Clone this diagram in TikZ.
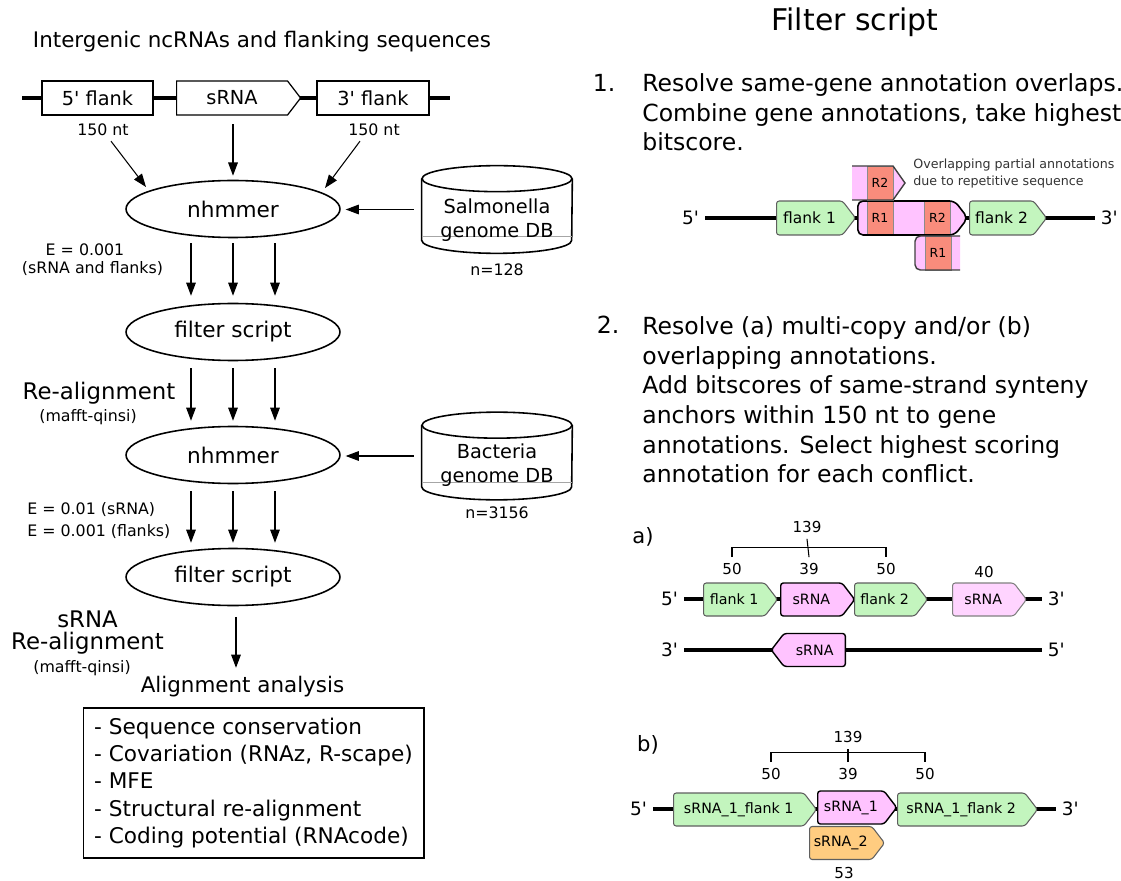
\documentclass[tikz,border=0pt]{standalone}
\usepackage{fontspec}
\setmainfont{DejaVu Sans}
\usetikzlibrary{positioning,calc,arrows.meta,shapes.geometric,shapes.symbols}
\definecolor{flankgreen}{RGB}{195,245,190}
\definecolor{srnapink}{RGB}{255,195,255}
\definecolor{srnalight}{RGB}{255,212,255}
\definecolor{repred}{RGB}{249,140,124}
\definecolor{srnaorange}{RGB}{255,204,128}
\definecolor{geneedge}{RGB}{95,95,95}
\newcommand\pr{\textquotesingle}
\tikzset{>={Triangle[length=7.5pt,width=5.5pt]}}
\tikzset{stage/.style={ellipse,draw,line width=0.9pt,minimum width=4.28cm,minimum height=1.14cm,font=\fontsize{12.3}{14}\selectfont}}
\tikzset{dbbody/.style={rectangle,inner sep=0pt,minimum width=3cm,minimum height=1.74cm}}
\tikzset{dbline/.style={line width=0.9pt}}
\tikzset{dbtext/.style={align=center,font=\fontsize{11}{13.7}\selectfont}}
\tikzset{seqbox/.style={draw,line width=0.7pt,fill=white,minimum height=0.68cm,inner sep=1pt,font=\fontsize{11}{13}\selectfont}}
\tikzset{small/.style={font=\fontsize{9}{10.8}\selectfont}}
\tikzset{big/.style={font=\fontsize{13}{12.5}\selectfont,align=center}}
\tikzset{flow/.style={->,line width=0.6pt}}
\tikzset{gene/.style={signal,signal to=east,signal pointer angle=105,anchor=west,draw=geneedge,line width=0.6pt,rounded corners=1.5pt,minimum height=0.66cm,inner sep=1pt,font=\fontsize{8.1}{9}\selectfont}}
\tikzset{band/.style={rectangle,fill=repred,draw=black!45,line width=0.4pt,minimum width=0.52cm,minimum height=0.68cm,inner sep=0pt,font=\fontsize{7.1}{8}\selectfont}}
\tikzset{strand/.style={line width=2.3pt}}
\tikzset{endlbl/.style={inner sep=3.2pt,font=\fontsize{10.5}{12}\selectfont}}
\tikzset{num/.style={font=\fontsize{8.6}{10}\selectfont}}
\tikzset{bracket/.style={line width=0.6pt}}
\tikzset{steplabel/.style={font=\fontsize{12}{14}\selectfont}}
\tikzset{stepbody/.style={align=left,inner sep=0pt,font=\fontsize{13.4}{16.8}\selectfont}}
\begin{document}
\begin{tikzpicture}[x=0.02cm,y=-0.02cm]
\useasboundingbox (0,0) rectangle (1121,881);

% pipeline
\node[font=\fontsize{12.2}{14}\selectfont] (intro) at (262,42) {Intergenic ncRNAs and flanking sequences};
\coordinate (chrL) at (22,98);
\coordinate (chrR) at (450,98);
\draw[line width=2pt] (chrL) -- (chrR);
\node[seqbox,minimum width=2.22cm] (fl5) at (97.5,98) {5\pr{} flank};
\node[seqbox,signal,signal to=east,signal pointer angle=105,anchor=west,minimum width=2.48cm] (srna) at (176,98) {sRNA};
\node[seqbox,minimum width=2.24cm] (fl3) at (373,98) {3\pr{} flank};
\node[small] (nt5) at (103,130) {150 nt};
\node[small] (nt3) at (374,130) {150 nt};

\node[stage] (nh1) at (233,209) {nhmmer};
\node[dbbody] (salm) at (497,209.5) {};
\draw[dbline] ($(salm.north west)+(0,13)$) -- ($(salm.south west)+(0,-13)$) arc[start angle=180,end angle=0,x radius=75,y radius=13] -- ($(salm.north east)+(0,13)$);
\draw[dbline] ($(salm.north)+(0,13)$) ellipse[x radius=75,y radius=13];
\draw[black!35,line width=0.4pt] ($(salm.west)+(0,26.5)$) -- ($(salm.east)+(0,26.5)$);
\node[dbtext] (salmtxt) at (497,220) {Salmonella\\genome DB};
\node[small] (n128) at (497,270) {n=128};

\draw[flow] ($(nt5.south)+(8,-1)$) -- ($(nh1.center)+(-87,-22)$);
\draw[flow,shorten <=5pt,shorten >=2.3pt] (nh1.north |- srna.south) -- (nh1.north);
\draw[flow] ($(nt3.south)+(-14,-1)$) -- ($(nh1.center)+(92,-21)$);
\draw[flow,shorten <=4.5pt,shorten >=2.8pt] (salm.west) -- (salm.west -| nh1.east);

\node[small] (ev1a) at (85,250) {E = 0.001};
\node[small] (ev1b) at (92.5,269) {(sRNA and flanks)};

\node[stage] (fs1) at (233,332) {filter script};
\foreach \dx in {-42,0,42}
  \draw[flow] ($(nh1.south)+(\dx,5)$) -- ($(fs1.north)+(\dx,-7)$);

\node[big] (realn) at (99,393) {Re-alignment};
\node[small] (mafft1) at (88,417) {(mafft-qinsi)};

\node[stage] (nh2) at (233,455) {nhmmer};
\foreach \dx in {-42,0,42}
  \draw[flow] ($(fs1.south)+(\dx,7)$) -- ($(nh2.north)+(\dx,-5)$);

\node[dbbody] (bact) at (497,456) {};
\draw[dbline] ($(bact.north west)+(0,13)$) -- ($(bact.south west)+(0,-13)$) arc[start angle=180,end angle=0,x radius=75,y radius=13] -- ($(bact.north east)+(0,13)$);
\draw[dbline] ($(bact.north)+(0,13)$) ellipse[x radius=75,y radius=13];
\draw[black!35,line width=0.4pt] ($(bact.west)+(0,26)$) -- ($(bact.east)+(0,26)$);
\node[dbtext] (bacttxt) at (497,465.5) {Bacteria\\genome DB};
\node[small] (n3156) at (497,513) {n=3156};
\draw[flow,shorten <=4.5pt,shorten >=2.8pt] (bact.west) -- (bact.west -| nh2.east);

\node[small,align=left,anchor=west,inner sep=0pt,font=\fontsize{9}{12.5}\selectfont] (ev2) at (27,521) {E = 0.01 (sRNA)\\E = 0.001 (flanks)};

\node[stage] (fs2) at (233,577) {filter script};
\foreach \dx in {-42,0,42}
  \draw[flow] ($(nh2.south)+(\dx,7)$) -- ($(fs2.north)+(\dx,-5)$);

\node[big] (srealn) at (87.5,633) {sRNA\\Re-alignment};
\node[small] (mafft2) at (82,668) {(mafft-qinsi)};

\node[font=\fontsize{12.2}{14}\selectfont] (aa) at (242.5,687) {Alignment analysis};
\draw[flow,shorten <=6pt,shorten >=1.5pt] ($(fs2.south)+(3,0)$) -- ($(fs2.south |- aa.north)+(3,0)$);

\node[draw,line width=0.6pt,minimum width=6.82cm,minimum height=3cm,align=left,font=\fontsize{12.3}{15.4}\selectfont] (meas) at (253.5,783) {- Sequence conservation\\- Covariation (RNAz, R-scape)\\- MFE\\- Structural re-alignment\\- Coding potential (RNAcode)};

% filter script
\node[font=\fontsize{17}{20}\selectfont] (fstitle) at (855,22) {Filter script};
\node[stepbody,inner sep=2pt] (s1) at (604,83) {1.};
\node[stepbody,anchor=north west] (s1txt) at (642,73.5) {Resolve same-gene annotation overlaps.\\Combine gene annotations, take highest\\bitscore.};

\node[endlbl,anchor=east] (o5) at (705,218) {5\pr};
\node[endlbl,anchor=west] (o3) at (1095,218) {3\pr};
\draw[strand] (o5.east) -- (o3.west);
\node[gene,fill=flankgreen,minimum width=1.58cm,minimum height=0.68cm,font=\fontsize{8.8}{10}\selectfont] (of1) at (776,218) {flank 1};
\node[gene,fill=flankgreen,minimum width=1.54cm,minimum height=0.68cm,font=\fontsize{8.8}{10}\selectfont] (of2) at (969,218) {flank 2};
\node[gene,fill=srnapink,draw=none,minimum width=2.2cm,minimum height=0.68cm,rounded corners=3pt] (ov) at (857,218) {};
\node[band] (ovr1) at (880,218) {R1};
\node[band] (ovr2) at (937.5,218) {R2};
\node[gene,draw=black,line width=0.9pt,minimum width=2.2cm,minimum height=0.68cm,rounded corners=3pt] (ovedge) at (ov.west) {};
% partial hits
\fill[srnapink] (852,166) -- (893,166) -- (905,183) -- (893,200) -- (852,200) -- cycle;
\node[band] (tpr2) at (880,183) {R2};
\draw[black!75,line width=0.8pt] (852,166) -- (893,166) -- (905,183) -- (893,200) -- (852,200);
\fill[srnapink] (960,236) [rounded corners=3pt] -- (915,236) -- (915,270) [sharp corners] -- (960,270) -- cycle;
\node[band] (bpr1) at (938,253) {R1};
\draw[black!75,line width=0.8pt] (960,236) [rounded corners=3pt] -- (915,236) -- (915,270) [sharp corners] -- (960,270);
\node[align=left,anchor=west,inner sep=0pt,text=black!80,font=\fontsize{7.2}{9.7}\selectfont] (ovnote) at (913,173.5) {Overlapping partial annotations\\due to repetitive sequence};

\node[stepbody,inner sep=2pt] (s2) at (608,325) {2.};
\node[stepbody,anchor=north west] (s2txt) at (642,316.7) {Resolve (a) multi-copy and/or (b)\\overlapping annotations.\\Add bitscores of same-strand synteny\\anchors within 150 nt to gene\\annotations. Select highest scoring\\annotation for each conflict.};

% a) multi-copy
\node[steplabel] (pa) at (643,537) {a)};
\node[num] (a139) at (807,527) {139};
\node[num] (a50l) at (732,569) {50};
\node[num] (a39) at (809,569) {39};
\node[num] (a50r) at (886,569) {50};
\node[num] (a40) at (984,572) {40};
\draw[bracket] (a50l.north) -- ++(0,-10) -| (a50r.north);
\draw[bracket] (a39.north) -- (a139.south);
\node[endlbl,anchor=east] (a5) at (684,599) {5\pr};
\node[endlbl,anchor=west] (a3) at (1042,599) {3\pr};
\draw[strand] (a5.east) -- (a3.west);
\node[gene,fill=flankgreen,minimum width=1.48cm] (af1) at (703,599.5) {flank 1};
\node[gene,fill=srnapink,draw=black,line width=0.8pt,minimum width=1.48cm] (asr) at (780,599.5) {sRNA};
\node[gene,fill=flankgreen,minimum width=1.46cm] (af2) at (854,599.5) {flank 2};
\node[gene,fill=srnalight,draw=black!50,minimum width=1.48cm] (asr2) at (952,599.5) {sRNA};
\node[endlbl,anchor=east] (ar3) at (684,650) {3\pr};
\node[endlbl,anchor=west] (ar5) at (1042,650) {5\pr};
\draw[strand] (ar3.east) -- (ar5.west);
\node[gene,signal to=west,anchor=east,fill=srnapink,draw=black,line width=0.8pt,minimum width=1.48cm] (arev) at (846,650) {sRNA};

% b) overlapping
\node[steplabel] (pb) at (648,745) {b)};
\node[num] (b139) at (848,737) {139};
\node[num] (b50l) at (771,774) {50};
\node[num] (b39) at (848,774) {39};
\node[num] (b50r) at (925,774) {50};
\draw[bracket] (b50l.north) -- ++(0,-10) -| (b50r.north);
\draw[bracket] (b39.north) -- (b139.south);
\node[endlbl,anchor=east] (b5) at (653,809) {5\pr};
\node[endlbl,anchor=west] (b3) at (1056,809) {3\pr};
\draw[strand] (b5.east) -- (b3.west);
\node[gene,fill=flankgreen,minimum width=2.86cm] (bf1) at (673,809.5) {sRNA\_1\_flank 1};
\node[gene,fill=flankgreen,minimum width=2.8cm] (bf2) at (897,809.5) {sRNA\_1\_flank 2};
\node[gene,fill=srnapink,draw=black,line width=0.8pt,minimum width=1.58cm] (bs1) at (817,807.5) {sRNA\_1};
\node[gene,fill=srnaorange,minimum width=1.5cm] (bs2) at (809,843) {sRNA\_2};
\node[num] (b53) at (844,873) {53};
\end{tikzpicture}
\end{document}
